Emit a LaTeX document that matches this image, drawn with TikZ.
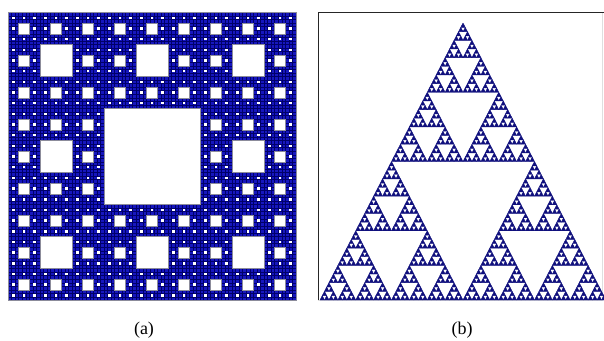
\documentclass[tikz,border=0pt]{standalone}
\usepackage{fontspec}
\setmainfont{Liberation Serif}
\definecolor{carpetblue}{RGB}{22,22,190}
\definecolor{gridnavy}{RGB}{0,0,105}
\definecolor{trinavy}{RGB}{16,16,125}
\definecolor{holegray}{RGB}{140,140,155}
\tikzset{
  gridline/.style={gridnavy, line width=0.45pt},
  hole/.style={fill=white, draw=holegray, line width=0.4pt},
  tinyhole/.style={fill=white},
  tri/.style={fill=trinavy, draw=trinavy, line width=0.4pt, line join=round},
  caption/.style={font=\fontsize{18}{21}\selectfont, inner sep=0pt}
}
\def\sierp#1#2#3#4{%
  \ifnum#4=0
    \fill[tri] (#1,#2) -- ++(#3,0) -- ++({-0.5*#3},#3) -- cycle;
  \else
    \begingroup
    \pgfmathsetmacro\hh{#3/2}%
    \pgfmathsetmacro\xa{#1+\hh}%
    \pgfmathsetmacro\xb{#1+\hh/2}%
    \pgfmathsetmacro\yb{#2+\hh}%
    \pgfmathtruncatemacro\dd{#4-1}%
    \edef\next{\noexpand\sierp{#1}{#2}{\hh}{\dd}\noexpand\sierp{\xa}{#2}{\hh}{\dd}\noexpand\sierp{\xb}{\yb}{\hh}{\dd}}%
    \expandafter\endgroup\next
  \fi}
\def\cs{3.5556}
\begin{document}
\begin{tikzpicture}[x=1pt,y=-1pt]
\useasboundingbox (0,0) rectangle (604,340);
% (a) Sierpinski carpet
\begin{scope}[shift={(8,12.5)}]
  \fill[carpetblue] (0,0) rectangle (288,288);
  \foreach \i in {0,...,81} {
    \draw[gridline] ({\i*\cs},0) -- ({\i*\cs},288);
    \draw[gridline] (0,{\i*\cs}) -- (288,{\i*\cs});
  }
  \foreach \a in {0,...,26} \foreach \b in {0,...,26}
    \fill[tinyhole] ({(3*\a+1)*\cs+0.45},{(3*\b+1)*\cs+0.45}) rectangle ++(\cs-0.9,\cs-0.9);
  \foreach \a in {0,...,8} \foreach \b in {0,...,8}
    \filldraw[hole] ({(9*\a+3)*\cs},{(9*\b+3)*\cs}) rectangle ++(3*\cs,3*\cs);
  \foreach \a in {0,...,2} \foreach \b in {0,...,2}
    \filldraw[hole] ({(27*\a+9)*\cs},{(27*\b+9)*\cs}) rectangle ++(9*\cs,9*\cs);
  \filldraw[hole] ({27*\cs},{27*\cs}) rectangle ++(27*\cs,27*\cs);
  \draw[holegray, line width=0.6pt] (0,0) rectangle (288,288);
\end{scope}
% (b) frame
\draw[gray!25, line width=0.6pt] (602,12) -- (602,300) -- (318,300);
\draw[black!85, line width=0.9pt] (318,300) -- (318,12) -- (604,12);
% (b) Sierpinski triangle
\begin{scope}[xshift=320pt, yshift=-300pt, x=286pt, y=277pt]
  \sierp{0}{0}{1}{6}
\end{scope}
\node[caption] (capa) at (144,330) {(a)};
\node[caption] (capb) at (462,330) {(b)};
\end{tikzpicture}
\end{document}
